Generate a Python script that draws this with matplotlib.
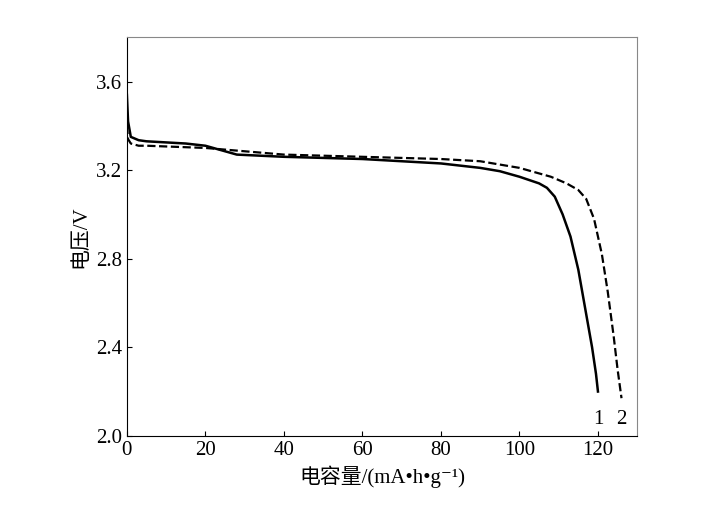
import matplotlib
matplotlib.use("Agg")
import matplotlib.pyplot as plt

x1 = [0, 0.3, 1, 3, 5, 10, 15, 20, 24, 28, 40, 60, 80, 90, 95, 100, 105, 107, 109, 111, 113, 115, 117, 118.5, 119.5, 120]
y1 = [3.54, 3.42, 3.35, 3.335, 3.33, 3.325, 3.32, 3.31, 3.29, 3.27, 3.26, 3.25, 3.23, 3.21, 3.195, 3.17, 3.14, 3.12, 3.08, 3.0, 2.9, 2.75, 2.55, 2.4, 2.28, 2.2]
x2 = [0, 0.3, 1, 3, 5, 20, 40, 60, 80, 90, 100, 108, 112, 115, 117, 119, 121, 122.5, 124, 125, 126]
y2 = [3.40, 3.34, 3.32, 3.31, 3.31, 3.30, 3.27, 3.26, 3.25, 3.24, 3.21, 3.17, 3.14, 3.11, 3.07, 2.98, 2.82, 2.65, 2.45, 2.3, 2.17]

fam = ['Liberation Serif', 'DejaVu Serif', 'Noto Sans CJK SC']
plt.rcParams['font.family'] = fam
fig = plt.figure(figsize=(7.01, 5.17), dpi=100)
ax = fig.add_axes([0.181, 0.157, 0.728, 0.771])
ax.plot(x1, y1, 'k-', lw=1.8)
ax.plot(x2, y2, 'k--', lw=1.6)
ax.text(120, 2.03, '1', fontsize=15, ha='center', va='bottom')
ax.text(126, 2.03, '2', fontsize=15, ha='center', va='bottom')
ax.set_xlim(0, 130)
ax.set_ylim(2.0, 3.8)
ax.set_xticks([0, 20, 40, 60, 80, 100, 120])
ax.set_yticks([2.0, 2.4, 2.8, 3.2, 3.6])
ax.yaxis.set_major_formatter(matplotlib.ticker.FormatStrFormatter('%.1f'))
ax.tick_params(labelsize=15, direction='in')
for s in ax.spines.values():
    s.set_color('#888888')
ax.spines['left'].set_color('black'); ax.spines['bottom'].set_color('black')
ax.set_xlabel('电容量/(mA•h•g⁻¹)', fontsize=15, family=fam)
ax.set_ylabel('电压/V', fontsize=15, family=fam)
fig.savefig('out.png', dpi=100)
